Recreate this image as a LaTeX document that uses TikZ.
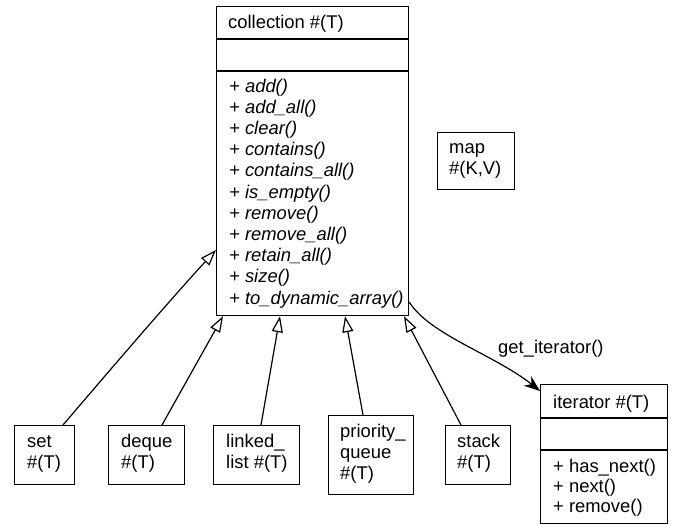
\documentclass[tikz,border=0pt]{standalone}
\usepackage{fontspec}
\setmainfont{Liberation Sans}
\usetikzlibrary{arrows.meta}
\begin{document}
\begin{tikzpicture}[x=1pt,y=-1pt,
  box/.style={draw, line width=1.2pt, inner sep=0pt, anchor=north west},
  txt/.style={inner sep=0pt, anchor=base west, font=\fontsize{18.4}{21}\selectfont},
  itxt/.style={txt, font=\fontsize{18.4}{21}\selectfont\itshape},
  inh/.style={line width=1.2pt, -{Triangle[open,length=16pt,width=11pt,line width=1.2pt]}},
  assoc/.style={line width=1.2pt, -{Stealth[length=16pt,width=12pt,inset=5pt]}}]
\useasboundingbox (0,0) rectangle (673,525);

% collection
\node[box, minimum width=192pt, minimum height=309pt] (coll) at (216,6) {};
\draw[line width=1.2pt] ([yshift=-33pt]coll.north west) -- ([yshift=-33pt]coll.north east);
\draw[line width=1.2pt] ([yshift=-65pt]coll.north west) -- ([yshift=-65pt]coll.north east);
\node[txt] (collh) at (228,28) {collection \#(T)};
\foreach \m [count=\i from 0] in {add(), add\_all(), clear(), contains(), contains\_all(), is\_empty(), remove(), remove\_all(), retain\_all(), size(), to\_dynamic\_array()}
  \node[itxt] (cm\i) at (229,{92+21.2*\i}) {+ \m};

% map
\node[box, minimum width=77pt, minimum height=57pt] (map) at (437,132) {};
\node[txt] (map1) at (449,153.5) {map};
\node[txt] (map2) at (449,174.5) {\#(K,V)};

% subclasses
\node[box, minimum width=60pt, minimum height=59pt] (set) at (14,425) {};
\node[txt] (set1) at (27,447) {set};
\node[txt] (set2) at (27,468) {\#(T)};

\node[box, minimum width=76pt, minimum height=59pt] (deque) at (108,425) {};
\node[txt] (deque1) at (121,447) {deque};
\node[txt] (deque2) at (121,468) {\#(T)};

\node[box, minimum width=86pt, minimum height=59pt] (linked) at (213,425) {};
\node[txt] (linked1) at (226,447) {linked\_};
\node[txt] (linked2) at (226,468) {list \#(T)};

\node[box, minimum width=85pt, minimum height=79pt] (prio) at (328,415) {};
\node[txt] (prio1) at (340,437) {priority\_};
\node[txt] (prio2) at (340,458) {queue};
\node[txt] (prio3) at (340,479) {\#(T)};

\node[box, minimum width=65pt, minimum height=59pt] (stack) at (445,425) {};
\node[txt] (stack1) at (457,447) {stack};
\node[txt] (stack2) at (457,468) {\#(T)};

% iterator
\node[box, minimum width=127pt, minimum height=139pt] (iter) at (540,384) {};
\draw[line width=1.2pt] ([yshift=-34pt]iter.north west) -- ([yshift=-34pt]iter.north east);
\draw[line width=1.2pt] ([yshift=-66pt]iter.north west) -- ([yshift=-66pt]iter.north east);
\node[txt] (iterh) at (553,408) {iterator \#(T)};
\node[txt] (it1) at (553,472) {+ has\_next()};
\node[txt] (it2) at (553,492) {+ next()};
\node[txt] (it3) at (553,512) {+ remove()};

% inheritance
\draw[inh] (set.north -| 63,0) .. controls (110,370) and (170,300) .. (coll.west |- 0,250);
\draw[inh] (deque.north -| 162,0) -- (coll.south -| 223,0);
\draw[inh] (linked.north -| 261,0) -- (coll.south -| 280,0);
\draw[inh] (prio.north -| 363,0) -- (coll.south -| 345,0);
\draw[inh] (stack.north -| 461,0) -- (coll.south -| 404,0);

% association
\draw[assoc] (coll.east |- 0,302) .. controls (430,335) and (495,355) .. (iter.west |- 0,391);
\node[txt] (lbl) at (498,353) {get\_iterator()};
\end{tikzpicture}
\end{document}
